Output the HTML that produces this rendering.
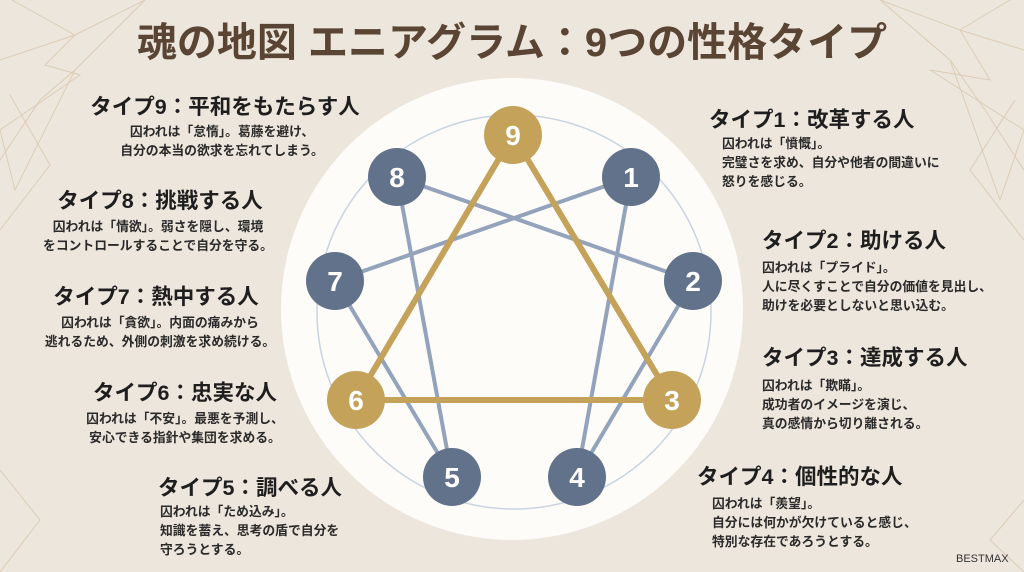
<!DOCTYPE html>
<html><head><meta charset="utf-8"><style>
body{margin:0;width:1024px;height:572px;overflow:hidden;background:#ede6dc;font-family:"Liberation Sans","Noto Sans CJK JP",sans-serif;position:relative}
.t{position:absolute;font-weight:bold;font-size:21.5px;color:#1e1e1e;white-space:nowrap;line-height:24px}
.d{position:absolute;font-weight:bold;font-size:12.8px;color:#2a2a2a;white-space:nowrap;line-height:19px}
.c{text-align:center;transform:translateX(-50%)}
</style></head><body>
<svg width="1024" height="572" style="position:absolute;left:0;top:0">
<g stroke="#d8c6ad" stroke-width="1" fill="none" opacity=".8">
<polyline points="0,60 75,35 45,65 80,75 0,130 15,190 75,70"/>
<polyline points="12,0 75,35 145,0 75,70 40,100 0,160"/>
<polyline points="0,230 50,165 10,95"/>
<polyline points="1024,50 960,30 990,80 930,70 1024,130 1000,200 950,60"/>
<polyline points="1010,0 960,30 880,0 950,60 985,110 1024,170"/>
<polyline points="1024,240 970,170 1015,100"/>
<polyline points="0,572 40,520 0,470"/>
<polyline points="1024,500 990,540 1024,572"/>
</g>
<circle cx="512" cy="309" r="231" fill="#fdfcf9"/>
<circle cx="514" cy="312" r="197" fill="none" stroke="#c9d3e1" stroke-width="1.5"/>
<g stroke="#93a3bb" stroke-width="4" stroke-linecap="round">
<line x1="631" y1="177" x2="577" y2="477"/>
<line x1="577" y1="477" x2="693" y2="281"/>
<line x1="693" y1="281" x2="397" y2="177"/>
<line x1="397" y1="177" x2="452" y2="477"/>
<line x1="452" y1="477" x2="335" y2="281"/>
<line x1="335" y1="281" x2="631" y2="177"/>
</g>
<polygon points="513,135 672,400 356,400" fill="none" stroke="#c4a25a" stroke-width="6" stroke-linejoin="round"/>
<g fill="#63728b"><circle cx="397" cy="177" r="29"/><circle cx="631" cy="177" r="29"/><circle cx="335" cy="281" r="29"/><circle cx="693" cy="281" r="29"/><circle cx="452" cy="477" r="29"/><circle cx="577" cy="477" r="29"/></g>
<g fill="#c4a25a"><circle cx="513" cy="135" r="29"/><circle cx="356" cy="400" r="29"/><circle cx="672" cy="400" r="29"/></g>
<g fill="#fff" font-family="Liberation Sans,sans-serif" font-weight="bold" font-size="28" text-anchor="middle">
<text x="513" y="145">9</text><text x="397" y="187">8</text><text x="631" y="187">1</text><text x="335" y="291">7</text><text x="693" y="291">2</text><text x="356" y="410">6</text><text x="672" y="410">3</text><text x="452" y="487">5</text><text x="577" y="487">4</text>
</g>
</svg>
<div class="t c" style="left:512px;top:20px;font-size:40px;line-height:46px;color:#5a4535">魂の地図 エニアグラム：9つの性格タイプ</div>

<div class="t c" style="left:225px;top:95px">タイプ9：平和をもたらす人</div>
<div class="d c" style="left:222px;top:122px">囚われは「怠惰」。葛藤を避け、<br>自分の本当の欲求を忘れてしまう。</div>
<div class="t c" style="left:160px;top:189px">タイプ8：挑戦する人</div>
<div class="d c" style="left:158px;top:217px">囚われは「情欲」。弱さを隠し、環境<br>をコントロールすることで自分を守る。</div>
<div class="t c" style="left:156px;top:285px">タイプ7：熱中する人</div>
<div class="d c" style="left:160px;top:313px">囚われは「貪欲」。内面の痛みから<br>逃れるため、外側の刺激を求め続ける。</div>
<div class="t c" style="left:185px;top:381px">タイプ6：忠実な人</div>
<div class="d c" style="left:185px;top:409px">囚われは「不安」。最悪を予測し、<br>安心できる指針や集団を求める。</div>
<div class="t" style="left:158px;top:476px">タイプ5：調べる人</div>
<div class="d" style="left:160px;top:502px">囚われは「ため込み」。<br>知識を蓄え、思考の盾で自分を<br>守ろうとする。</div>

<div class="t" style="left:709px;top:108px">タイプ1：改革する人</div>
<div class="d" style="left:722px;top:134px">囚われは「憤慨」。<br>完璧さを求め、自分や他者の間違いに<br>怒りを感じる。</div>
<div class="t" style="left:762px;top:229px">タイプ2：助ける人</div>
<div class="d" style="left:762px;top:258px">囚われは「プライド」。<br>人に尽くすことで自分の価値を見出し、<br>助けを必要としないと思い込む。</div>
<div class="t" style="left:762px;top:346px">タイプ3：達成する人</div>
<div class="d" style="left:762px;top:376px">囚われは「欺瞞」。<br>成功者のイメージを演じ、<br>真の感情から切り離される。</div>
<div class="t" style="left:697px;top:465px">タイプ4：個性的な人</div>
<div class="d" style="left:712px;top:494px">囚われは「羨望」。<br>自分には何かが欠けていると感じ、<br>特別な存在であろうとする。</div>
<div style="position:absolute;left:956px;top:553px;font-size:11px;color:#333">BESTMAX</div>
</body></html>
